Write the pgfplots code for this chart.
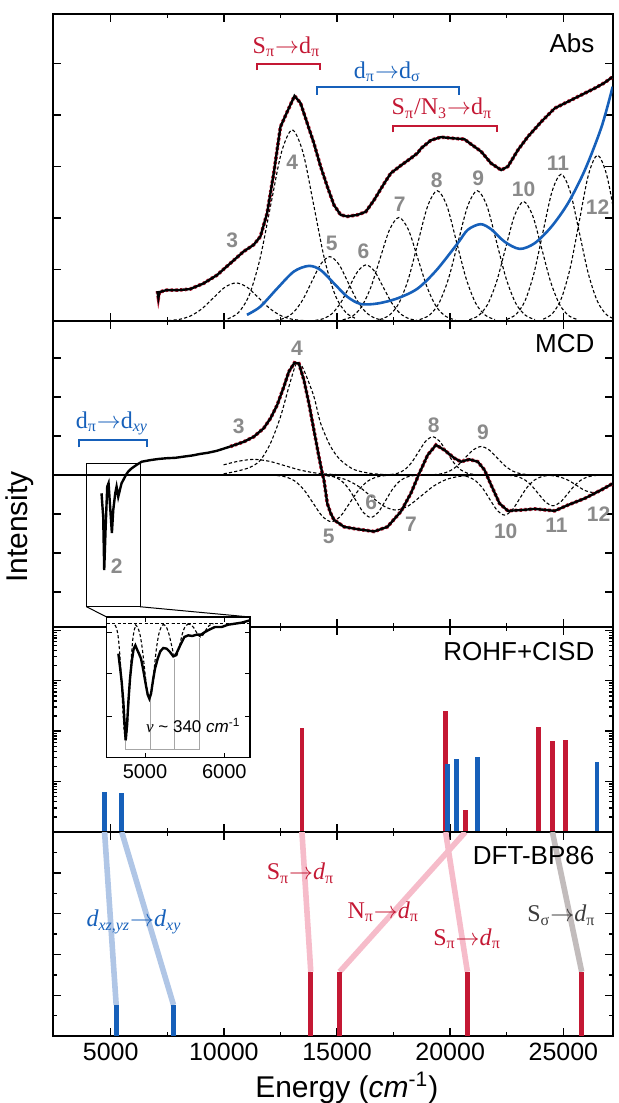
\documentclass[border=0pt]{standalone}
\usepackage{fontspec}
\setmainfont{Liberation Sans}
\newfontfamily\serif{Liberation Serif}
\usepackage{pgfplots}
\pgfplotsset{compat=1.18}
\definecolor{myred}{RGB}{196,24,52}
\definecolor{myblue}{RGB}{22,96,186}
\definecolor{lblue}{RGB}{176,198,230}
\definecolor{lpink}{RGB}{246,188,202}
\definecolor{lgray}{RGB}{194,188,188}
\definecolor{numgray}{RGB}{138,138,138}
\definecolor{dgray}{RGB}{60,60,60}
\pgfplotsset{
  panel/.style={scale only axis, width=279.75pt, xmin=2460, xmax=27180,
    scaled ticks=false,
    axis line style={line width=0.9pt},
    tick style={black, line width=0.7pt},
    tick align=inside, major tick length=3.8pt, minor tick length=2.1pt,
    xtick={5000,10000,15000,20000,25000}, minor xtick={7500,12500,17500,22500},
    xticklabels={}, yticklabels={}},
}
\tikzset{
  comp/.style={black, line width=0.55pt, dash pattern=on 1.6pt off 1.1pt, smooth},
  spec/.style={black, line width=1.2pt},
  fit/.style={myred, line width=1.8pt, dash pattern=on 1.2pt off 1.2pt},
  numlab/.style={text=numgray, font=\fontsize{10.5}{12}\selectfont\bfseries},
  annot/.style={font=\serif\fontsize{12}{14}\selectfont, anchor=base},
  panlab/.style={font=\fontsize{13}{15}\selectfont, anchor=base east, inner sep=0pt},
}
\begin{document}
\begin{tikzpicture}
\useasboundingbox (0,0) rectangle (309pt,-551.5pt);
% ---------------- Panel 1: Abs
\begin{axis}[panel, at={(26.6pt,-7pt)}, anchor=north west, height=153.5pt,
  ymin=0, ymax=5.96, ytick={1,2,3,4,5}]
\addplot[comp] coordinates {(7537,0.008)(8037,0.032)(8537,0.100)(9037,0.240)(9537,0.449)(10037,0.653)(10537,0.74)(11037,0.653)(11537,0.449)(12037,0.240)(12537,0.100)(13037,0.032)(13537,0.008)};
\addplot[comp] coordinates {(10170,0.041)(10645,0.163)(11120,0.502)(11595,1.205)(12070,2.250)(12545,3.274)(13020,3.71)(13495,3.274)(13970,2.250)(14445,1.205)(14920,0.502)(15395,0.163)(15870,0.041)};
\addplot[comp] coordinates {(12278,0.014)(12678,0.055)(13078,0.169)(13478,0.406)(13878,0.758)(14278,1.103)(14678,1.25)(15078,1.103)(15478,0.758)(15878,0.406)(16278,0.169)(16678,0.055)(17078,0.014)};
\addplot[comp] coordinates {(14038,0.012)(14413,0.048)(14788,0.147)(15163,0.354)(15538,0.661)(15913,0.962)(16288,1.09)(16663,0.962)(17038,0.661)(17413,0.354)(17788,0.147)(18163,0.048)(18538,0.012)};
\addplot[comp] coordinates {(15247,0.022)(15662,0.088)(16077,0.272)(16492,0.653)(16907,1.219)(17322,1.774)(17737,2.01)(18152,1.774)(18567,1.219)(18982,0.653)(19397,0.272)(19812,0.088)(20227,0.022)};
\addplot[comp] coordinates {(16881,0.028)(17306,0.111)(17731,0.342)(18156,0.821)(18581,1.534)(19006,2.233)(19431,2.53)(19856,2.233)(20281,1.534)(20706,0.821)(21131,0.342)(21556,0.111)(21981,0.028)};
\addplot[comp] coordinates {(18649,0.028)(19074,0.111)(19499,0.342)(19924,0.821)(20349,1.534)(20774,2.233)(21199,2.53)(21624,2.233)(22049,1.534)(22474,0.821)(22899,0.342)(23324,0.111)(23749,0.028)};
\addplot[comp] coordinates {(20843,0.026)(21243,0.102)(21643,0.314)(22043,0.753)(22443,1.407)(22843,2.047)(23243,2.32)(23643,2.047)(24043,1.407)(24443,0.753)(24843,0.314)(25243,0.102)(25643,0.026)};
\addplot[comp] coordinates {(22500,0.032)(22900,0.125)(23300,0.386)(23700,0.925)(24100,1.729)(24500,2.515)(24900,2.85)(25300,2.515)(25700,1.729)(26100,0.925)(26500,0.386)(26900,0.125)(27300,0.032)};
\addplot[comp] coordinates {(24110,0.036)(24510,0.141)(24910,0.436)(25310,1.046)(25710,1.953)(26110,2.842)(26510,3.22)(26910,2.842)(27310,1.953)(27710,1.046)};
\addplot[myblue, line width=1.3pt, smooth] coordinates {(11023,0.12)(11614,0.28)(12353,0.63)(13092,0.96)(13757,1.07)(14274,0.99)(14866,0.73)(15457,0.47)(16048,0.33)(16787,0.34)(17673,0.44)(18560,0.63)(19400,0.99)(20333,1.51)(20776,1.77)(21338,1.88)(21811,1.78)(22402,1.54)(23067,1.40)(23732,1.51)(24471,1.83)(25210,2.29)(25949,2.93)(26688,3.77)(27180,4.55)};
\pgfplotstableread{
x y
7063 0.58
7107 0.45
7150 0.56
7300 0.58
7477 0.60
8000 0.60
8511 0.62
9102 0.73
9693 0.89
10285 1.12
10876 1.35
11319 1.48
11614 1.64
11910 2.09
12205 2.87
12501 3.77
12797 4.06
13122 4.37
13388 4.23
13683 3.84
13979 3.45
14274 3.00
14570 2.61
14866 2.25
15161 2.06
15457 2.03
15900 2.06
16269 2.12
16639 2.35
17082 2.67
17378 2.87
17821 3.02
18264 3.16
18560 3.26
18708 3.35
19151 3.51
19594 3.57
20038 3.55
20629 3.53
20776 3.48
21367 3.29
21811 3.06
22254 2.93
22550 3.00
22993 3.32
23436 3.58
24027 3.87
24618 4.13
25210 4.26
25801 4.39
26392 4.52
26800 4.62
27180 4.74
}\abs
\addplot[fit] table {\abs};
\addplot[spec] table {\abs};
% annotations
\draw[myred, line width=1pt] (11482,4.87) -- (11482,4.98) -- (14243,4.98) -- (14243,4.87);
\draw[myblue, line width=1pt] (14119,4.39) -- (14119,4.54) -- (20410,4.54) -- (20410,4.39);
\draw[myred, line width=1pt] (17458,3.66) -- (17458,3.79) -- (22068,3.79) -- (22068,3.66);
\node[annot, text=myred] at (12767,5.20) {S\textsubscript{π}$\rightarrow$d\textsubscript{π}};
\node[annot, text=myblue] at (17222,4.71) {d\textsubscript{π}$\rightarrow$d\textsubscript{σ}};
\node[annot, text=myred] at (19638,4.00) {S\textsubscript{π}/N\textsubscript{3}$\rightarrow$d\textsubscript{π}};
\node[panlab] at (26386,5.21) {Abs};
\node[numlab] at (10364,1.57) {3};
\node[numlab] at (13020,3.09) {4};
\node[numlab] at (14762,1.50) {5};
\node[numlab] at (16163,1.35) {6};
\node[numlab] at (17772,2.27) {7};
\node[numlab] at (19399,2.74) {8};
\node[numlab] at (21234,2.77) {9};
\node[numlab] at (23243,2.56) {10};
\node[numlab] at (24763,3.06) {11};
\node[numlab] at (26510,2.21) {12};
\end{axis}
% ---------------- Panel 2: MCD
\begin{axis}[panel, at={(26.6pt,-160.5pt)}, anchor=north west, height=153pt,
  ymin=-3.90, ymax=3.95, ytick={-3,-2,-1,0,1,2,3}]
\addplot[black, line width=0.8pt] coordinates {(2460,0)(27180,0)};
\addplot[comp] coordinates {(9990,0.26)(10644,0.353)(11319,0.40)(11994,0.353)(12669,0.243)(13344,0.130)(14019,0.054)(14694,0.018)(15369,0.004)(16500,0)};
\addplot[comp] coordinates {(9990,0.03)(10600,0.10)(11171,0.2)(11614,0.38)(12058,0.81)(12501,1.49)(12871,2.26)(13167,2.82)(13314,2.88)(13536,2.69)(13979,2.01)(14274,1.33)(14717,0.73)(15160,0.38)(15752,0.14)(16490,0.04)(17200,0.01)};
\addplot[comp] coordinates {(12350,-0.013)(12750,-0.053)(13150,-0.162)(13550,-0.390)(13950,-0.728)(14350,-1.059)(14750,-1.2)(15150,-1.059)(15550,-0.728)(15950,-0.390)(16350,-0.162)(16750,-0.053)(17150,-0.013)};
\addplot[comp] coordinates {(14540,-0.012)(14865,-0.048)(15190,-0.147)(15515,-0.354)(15840,-0.661)(16165,-0.962)(16490,-1.09)(16815,-0.962)(17140,-0.661)(17465,-0.354)(17790,-0.147)(18115,-0.048)(18440,-0.012)};
\addplot[comp] coordinates {(14300,-0.010)(14850,-0.040)(15400,-0.122)(15950,-0.292)(16500,-0.546)(17050,-0.794)(17600,-0.9)(18150,-0.794)(18700,-0.546)(19250,-0.292)(19800,-0.122)(20350,-0.040)(20900,-0.010)};
\addplot[comp] coordinates {(17364,0.011)(17674,0.043)(17984,0.133)(18294,0.318)(18604,0.594)(18914,0.865)(19224,0.98)(19534,0.865)(19844,0.594)(20154,0.318)(20464,0.133)(20774,0.043)(21084,0.011)};
\addplot[comp] coordinates {(19267,0.008)(19617,0.032)(19967,0.099)(20317,0.237)(20667,0.443)(21017,0.644)(21367,0.73)(21717,0.644)(22067,0.443)(22417,0.237)(22767,0.099)(23117,0.032)(23467,0.008)};
\addplot[comp] coordinates {(20451,-0.011)(20776,-0.045)(21101,-0.139)(21426,-0.334)(21751,-0.625)(22076,-0.909)(22401,-1.03)(22726,-0.909)(23051,-0.625)(23376,-0.334)(23701,-0.139)(24026,-0.045)(24351,-0.011)};
\addplot[comp] coordinates {(22594,-0.009)(22919,-0.035)(23244,-0.107)(23569,-0.257)(23894,-0.479)(24219,-0.697)(24544,-0.79)(24869,-0.697)(25194,-0.479)(25519,-0.257)(25844,-0.107)(26169,-0.035)(26494,-0.009)};
\addplot[comp] coordinates {(24200,-0.005)(24550,-0.020)(24900,-0.061)(25250,-0.146)(25600,-0.273)(25950,-0.397)(26300,-0.45)(26650,-0.397)(27000,-0.273)(27350,-0.146)(27700,-0.061)};
\pgfplotstableread{
x y
10285 0.73
10876 0.85
11319 0.98
11762 1.20
12058 1.45
12353 1.79
12649 2.26
12871 2.65
13122 2.88
13314 2.86
13536 2.44
13757 1.84
13979 1.15
14200 0.47
14348 0.04
14422 -0.13
14570 -0.73
14718 -0.98
14865 -1.15
15308 -1.33
15900 -1.39
16638 -1.45
17229 -1.33
17820 -0.94
18264 -0.47
18633 0.04
19003 0.51
19372 0.77
19742 0.64
20185 0.43
20480 0.34
20850 0.40
21219 0.34
21515 0.13
21810 -0.26
22180 -0.73
22549 -0.92
23140 -0.90
23732 -0.87
24618 -0.92
25209 -0.77
25948 -0.60
26687 -0.38
27180 -0.22
}\mcdfit
\addplot[fit] table {\mcdfit};
\addplot[spec] coordinates {(4595,-0.47)(4669,-1.07)(4714,-2.44)(4773,-1.41)(4847,-0.30)(4906,-0.21)(4965,-0.73)(5053,-1.49)(5113,-0.90)(5201,-0.47)(5260,-0.30)(5334,-0.56)(5408,-0.38)(5482,-0.21)(5556,-0.13)(5674,0)(5778,0.09)(5925,0.17)(6147,0.26)(6369,0.34)(6738,0.38)(7100,0.41)(7477,0.43)(7850,0.44)(8216,0.47)(8600,0.50)(8955,0.54)(9300,0.57)(9694,0.62)(10285,0.73)};
\addplot[spec] table {\mcdfit};
% box
\draw[line width=0.5pt] (3930,0.30) rectangle (6295,-3.38);
\coordinate (bl) at (3930,-3.38);
\coordinate (br) at (6295,-3.38);
\draw[myblue, line width=1pt] (3582,0.71) -- (3582,0.90) -- (6588,0.90) -- (6588,0.71);
\node[annot, text=myblue] at (5054,1.20) {d\textsubscript{π}$\rightarrow$d\textsubscript{\itshape xy}};
\node[panlab] at (26386,3.13) {MCD};
\node[numlab] at (5262,-2.35) {2};
\node[numlab] at (10661,1.24) {3};
\node[numlab] at (13228,3.25) {4};
\node[numlab] at (14628,-1.58) {5};
\node[numlab] at (16513,-0.71) {6};
\node[numlab] at (18264,-1.26) {7};
\node[numlab] at (19275,1.28) {8};
\node[numlab] at (21443,1.09) {9};
\node[numlab] at (22453,-1.44) {10};
\node[numlab] at (24692,-1.30) {11};
\node[numlab] at (26560,-1.00) {12};
\end{axis}
% ---------------- Panel 3: ROHF+CISD (log scale, decades)
\begin{axis}[panel, at={(26.6pt,-313.5pt)}, anchor=north west, height=102.5pt,
  ymin=0, ymax=4.067, ytick={1,2,3,4},
  minor ytick={0.301,0.477,0.602,0.699,0.778,0.845,0.903,0.954,1.301,1.477,1.602,1.699,1.778,1.845,1.903,1.954,2.301,2.477,2.602,2.699,2.778,2.845,2.903,2.954,3.301,3.477,3.602,3.699,3.778,3.845,3.903,3.954}]
\addplot[ycomb, myred, line width=2.4pt] coordinates {(13450,2.07)(19797,2.41)(20672,0.44)(23900,2.08)(24515,1.80)(25110,1.83)};
\addplot[ycomb, myblue, line width=2.4pt] coordinates {(4730,0.80)(5488,0.78)(19870,1.35)(20270,1.44)(21190,1.49)(26490,1.38)};
\node[panlab] at (26386,3.40) {ROHF+CISD};
\end{axis}
% ---------------- Panel 4: DFT-BP86
\begin{axis}[panel, at={(26.6pt,-416pt)}, anchor=north west, height=102pt,
  ymin=0, ymax=10, ytick={2,4,6,8}, minor ytick={1,3,5,7,9},
  xticklabels={5000,10000,15000,20000,25000},
  xticklabel style={font=\fontsize{12.5}{15}\selectfont}]
\addplot[lblue, line width=2.8pt] coordinates {(4730,10)(5243,1.52)};
\addplot[lblue, line width=2.8pt] coordinates {(5488,10)(7776,1.52)};
\addplot[lpink, line width=2.8pt] coordinates {(13450,10)(13840,3.15)};
\addplot[lpink, line width=2.8pt] coordinates {(20672,10)(15117,3.15)};
\addplot[lpink, line width=2.8pt] coordinates {(19797,10)(20760,3.15)};
\addplot[lgray, line width=2.8pt] coordinates {(24515,10)(25810,3.15)};
\addplot[ycomb, myblue, line width=2.6pt] coordinates {(5243,1.52)(7776,1.52)};
\addplot[ycomb, myred, line width=2.6pt] coordinates {(13840,3.15)(15117,3.15)(20760,3.15)(25810,3.15)};
\node[annot, text=myblue] at (6029,5.36) {\itshape d\textsubscript{xz,yz}\upshape$\rightarrow$\itshape d\textsubscript{xy}};
\node[annot, text=myred] at (13388,7.65) {S\textsubscript{π}$\rightarrow$\textit{d}\textsubscript{π}};
\node[annot, text=myred] at (17044,5.77) {N\textsubscript{π}$\rightarrow$\textit{d}\textsubscript{π}};
\node[annot, text=myred] at (20747,4.46) {S\textsubscript{π}$\rightarrow$\textit{d}\textsubscript{π}};
\node[annot, text=dgray] at (24914,5.60) {S\textsubscript{σ}$\rightarrow$\textit{d}\textsubscript{π}};
\node[panlab] at (26386,8.42) {DFT-BP86};
\end{axis}
% ---------------- Inset
\begin{axis}[name=inset, at={(53.35pt,-308.5pt)}, anchor=north west, scale only axis,
  width=71.65pt, height=70.35pt, xmin=4517, xmax=6324, ymin=-437, ymax=-15,
  scaled ticks=false,
  axis background/.style={fill=white}, axis line style={line width=0.7pt},
  tick style={black, line width=0.5pt}, tick align=inside, major tick length=2.5pt,
  xtick={5000,6000}, xticklabels={5000,6000},
  xticklabel style={font=\fontsize{10}{12}\selectfont},
  ytick={-60,-185,-312}, yticklabels={}]
\addplot[comp] coordinates {(4517,-35)(6324,-35)};
\addplot[comp] coordinates {(4621,-38.9)(4643.5,-50.4)(4666,-82.4)(4688.5,-148.6)(4711,-247.3)(4733.5,-343.9)(4756,-385)(4778.5,-343.9)(4801,-247.3)(4823.5,-148.6)(4846,-82.4)(4868.5,-50.4)(4891,-38.9)};
\addplot[comp] coordinates {(4875,-37.5)(4905,-44.9)(4935,-65.4)(4965,-108.1)(4995,-171.5)(5025,-233.6)(5055,-260)(5085,-233.6)(5115,-171.5)(5145,-108.1)(5175,-65.4)(5205,-44.9)(5235,-37.5)};
\addplot[comp] coordinates {(5221,-36.1)(5248.5,-39.4)(5276,-48.5)(5303.5,-67.5)(5331,-95.7)(5358.5,-123.3)(5386,-135)(5413.5,-123.3)(5441,-95.7)(5468.5,-67.5)(5496,-48.5)(5523.5,-39.4)(5551,-36.1)};
\addplot[comp] coordinates {(5535,-35.4)(5562.5,-36.8)(5590,-40.4)(5617.5,-48)(5645,-59.3)(5672.5,-70.3)(5700,-75)(5727.5,-70.3)(5755,-59.3)(5782.5,-48)(5810,-40.4)(5837.5,-36.8)(5865,-35.4)};
\addplot[gray!70, line width=0.5pt] coordinates {(4756,-385)(4756,-413)(5693,-413)(5693,-78)};
\addplot[gray!70, line width=0.5pt] coordinates {(5063,-413)(5063,-262)};
\addplot[gray!70, line width=0.5pt] coordinates {(5378,-413)(5378,-140)};
\addplot[black, line width=1.2pt] coordinates {(4664,-125)(4685,-165)(4706,-210)(4727,-270)(4744,-340)(4756,-385)(4773,-340)(4790,-270)(4811,-200)(4832,-150)(4857,-110)(4878,-100)(4899,-112)(4924,-125)(4950,-140)(4979,-175)(5008,-215)(5034,-248)(5055,-260)(5076,-245)(5101,-205)(5126,-170)(5160,-140)(5193,-118)(5231,-108)(5273,-110)(5315,-120)(5357,-133)(5386,-130)(5420,-112)(5454,-95)(5496,-75)(5546,-70)(5596,-72)(5651,-68)(5706,-68)(5756,-60)(5819,-52)(5882,-45)(5966,-45)(6050,-38)(6134,-35)(6218,-32)(6323,-25)};
\node[font=\fontsize{8.5}{10}\selectfont] at (5609,-340) {{\serif\itshape ν} \textasciitilde\ 340 \textit{cm}\textsuperscript{-1}};
\end{axis}
\draw[line width=0.5pt] (bl) -- (inset.north west);
\draw[line width=0.5pt] (br) -- (inset.north east);
% axis titles
\node[rotate=90, font=\fontsize{15}{18}\selectfont] at (10pt,-263.5pt) {Intensity};
\node[font=\fontsize{15}{18}\selectfont] at (173.4pt,-544pt) {Energy (\textit{cm}\textsuperscript{-1})};
\end{tikzpicture}
\end{document}
